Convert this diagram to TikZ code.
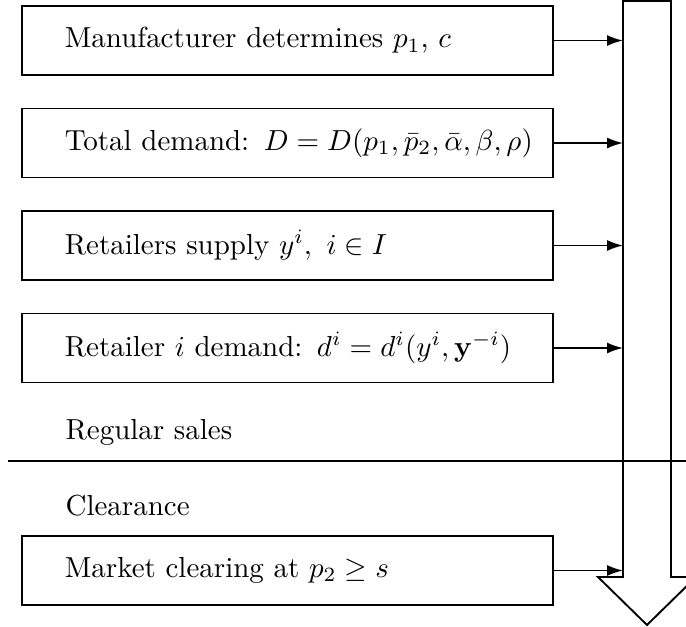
\documentclass[tikz,border=0pt]{standalone}
\usepackage{amsmath}
\usepackage{amssymb}
\usetikzlibrary{arrows.meta}

\tikzset{
	stage/.style = {draw, line width = 0.55pt, rectangle, minimum width = 183.2pt, minimum height = 23.8pt,
		text width = 183.2pt, inner xsep = 0pt, align = left,
		execute at begin node = {\hspace*{14.8pt}}},
	phase/.style = {anchor = west, inner sep = 0pt},
	feed/.style = {-{Latex[length=5.5pt,width=3.8pt]}, line width = 0.6pt}
}

\begin{document}
\begin{tikzpicture}[x = 0.345pt, y = -0.345pt]
	\useasboundingbox (0,0) rectangle (686,627);
	% time line
	\draw[line width = 0.65pt] (623,1) -- (671,1) -- (671,577) -- (696,577)
		-- (647,625) -- (598,577) -- (623,577) -- cycle;
	\coordinate (flow) at (623,300);
	% stages
	\node[stage] (maker) at (287.5,40.5) {Manufacturer determines $p_1$, $c$};
	\node[stage] (total) at (287.5,143) {Total demand: $D = D(p_1, \bar{p}_2, \bar{\alpha}, \beta, \rho)$};
	\node[stage] (supply) at (287.5,245.5) {Retailers supply $y^i,\ i \in I$};
	\node[stage] (retail) at (287.5,348) {Retailer $i$ demand: $d^i = d^i(y^i, \mathbf{y}^{-i})$};
	\node[stage] (clear) at (287.5,570.5) {Market clearing at $p_2 \geq s$};
	% periods
	\node[phase] (regular) at (65,432) {Regular sales};
	\node[phase] (clearance) at (65,506) {Clearance};
	\draw[line width = 0.6pt] (8,461) -- (700,461);
	\foreach \s in {maker,total,supply,retail,clear} {
		\draw[feed] (\s.east) -- (\s.east -| flow);
	}
\end{tikzpicture}
\end{document}
